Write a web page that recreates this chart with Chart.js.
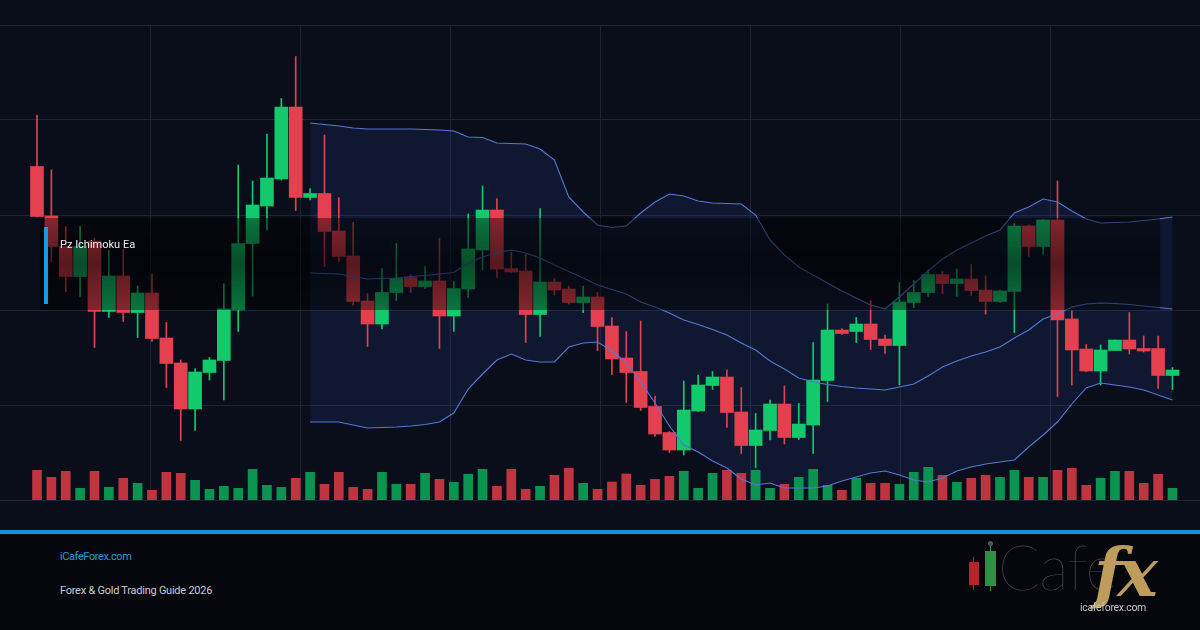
<!DOCTYPE html>
<html>
<head>
<meta charset="utf-8">
<script src="https://cdn.jsdelivr.net/npm/chart.js@4.4.1/dist/chart.umd.min.js"></script>
<style>
  html, body { margin: 0; padding: 0; background: #05070d; }
  #page { position: relative; width: 1200px; height: 630px; background: #05070d; overflow: hidden; font-family: Roboto, "Noto Sans", sans-serif; }
  #plot { position: absolute; left: 0; top: 0; width: 1200px; height: 530px; background: #0a0e1a; }
  #rule { position: absolute; left: 0; top: 530px; width: 1200px; height: 4px; background: #1590d0; }
  .txt { position: absolute; white-space: nowrap; line-height: 1; }
  #tag { left: 60px; top: 239px; font-size: 11px; color: #eef0f4; }
  #tagbar { position: absolute; left: 44px; top: 227px; width: 4px; height: 77px; background: #1a9ae0; }
  #site { left: 60px; top: 551px; font-size: 11px; color: #2a9ad8; letter-spacing: -0.4px; }
  #guide { left: 60px; top: 585px; font-size: 11px; color: #c9ccd3; letter-spacing: -0.25px; }
  .lc { position: absolute; }
  #cafe { left: 998px; top: 535px; font-family: Lato, sans-serif; font-weight: 200; font-size: 62px; color: #4d4d4f; letter-spacing: -1px; }
  #fx { left: 1094px; top: 538px; font-family: "DejaVu Serif", serif; font-style: italic; font-weight: bold; font-size: 68px; color: #bd9c5c; letter-spacing: -6px; }
  #small { left: 1080px; top: 603px; font-size: 10.5px; color: #c4c4c4; letter-spacing: -0.3px; }
</style>
</head>
<body>
<div id="page">
  <div id="plot"><canvas id="chart" width="1200" height="530"></canvas></div>
  <div id="tagbar"></div>
  <div class="txt" id="tag">Pz Ichimoku Ea</div>
  <div id="rule"></div>
  <div class="txt" id="site">iCafeForex.com</div>
  <div class="txt" id="guide">Forex &amp; Gold Trading Guide 2026</div>
  <!-- logo -->
  <div class="lc" style="left:973px;top:557px;width:1px;height:33px;background:#a82a2e"></div>
  <div class="lc" style="left:969px;top:562px;width:10px;height:23px;background:#b3262c"></div>
  <div class="lc" style="left:990px;top:544px;width:1px;height:47px;background:#3f8f4e"></div>
  <div class="lc" style="left:988px;top:541px;width:5px;height:5px;border-radius:50%;background:#555"></div>
  <div class="lc" style="left:985px;top:551px;width:11px;height:35px;background:#2f8f45"></div>
  <div class="txt" id="cafe">Cafe</div>
  <div class="txt" id="fx">fx</div>
  <div class="txt" id="small">icafeforex.com</div>
</div>
<script>
// price candles, one per bar (index 0..79)
const candleOpen = [
  2366.7, 2356.8, 2350.7, 2344.7, 2351.8, 2337.7, 2344.8, 2337.5, 2341.4, 2332.4,
  2327.4, 2318.2, 2325.5, 2327.9, 2338.0, 2351.3, 2358.8, 2364.2, 2378.6, 2360.5,
  2361.3, 2353.8, 2348.8, 2339.8, 2335.2, 2341.5, 2344.5, 2342.7, 2343.8, 2336.8,
  2342.2, 2350.0, 2358.0, 2346.3, 2345.8, 2337.1, 2343.6, 2342.2, 2339.5, 2340.6,
  2334.8, 2328.4, 2325.7, 2318.7, 2313.5, 2310.0, 2317.8, 2322.9, 2324.6, 2317.6,
  2310.9, 2313.9, 2319.2, 2312.5, 2315.0, 2323.9, 2334.0, 2333.7, 2335.2, 2332.2,
  2330.9, 2339.5, 2341.5, 2345.1, 2343.3, 2344.2, 2342.0, 2339.7, 2341.7, 2354.8,
  2350.7, 2356.0, 2336.2, 2330.2, 2325.8, 2329.9, 2332.0, 2330.3, 2330.3, 2324.9
];
const candleHigh = [
  2377.0, 2366.0, 2354.7, 2354.7, 2352.4, 2349.9, 2350.1, 2342.8, 2345.2, 2335.5,
  2328.0, 2326.3, 2328.5, 2343.3, 2367.0, 2363.8, 2373.2, 2380.3, 2388.7, 2362.3,
  2373.0, 2360.5, 2355.5, 2341.3, 2346.3, 2351.3, 2345.0, 2346.7, 2352.3, 2343.7,
  2357.2, 2362.8, 2360.3, 2349.5, 2349.2, 2358.3, 2344.3, 2342.8, 2342.8, 2341.5,
  2336.5, 2333.7, 2335.8, 2320.8, 2313.7, 2323.8, 2325.0, 2325.7, 2326.0, 2322.5,
  2317.3, 2320.0, 2322.8, 2319.3, 2331.5, 2339.2, 2334.3, 2336.5, 2339.9, 2333.0,
  2343.5, 2343.9, 2346.0, 2345.7, 2346.2, 2347.1, 2344.8, 2342.0, 2355.3, 2355.0,
  2356.1, 2363.8, 2337.8, 2331.1, 2331.0, 2332.0, 2337.5, 2332.8, 2332.8, 2326.5
];
const candleLow = [
  2356.6, 2347.7, 2341.7, 2340.7, 2330.5, 2336.5, 2335.7, 2332.5, 2331.7, 2322.5,
  2311.9, 2313.9, 2324.0, 2320.0, 2333.7, 2340.8, 2354.0, 2364.0, 2357.9, 2360.0,
  2346.7, 2347.7, 2339.0, 2330.7, 2334.2, 2339.9, 2341.5, 2342.3, 2330.3, 2333.7,
  2340.5, 2346.1, 2344.5, 2345.5, 2331.5, 2332.7, 2341.0, 2339.2, 2337.5, 2329.9,
  2325.1, 2319.5, 2317.9, 2312.7, 2309.5, 2309.0, 2317.7, 2322.1, 2314.5, 2309.3,
  2306.5, 2312.0, 2311.2, 2312.1, 2309.3, 2319.7, 2333.1, 2331.5, 2330.1, 2329.3,
  2323.0, 2338.5, 2340.7, 2341.3, 2340.7, 2340.9, 2337.2, 2339.5, 2333.5, 2348.7,
  2349.1, 2320.7, 2323.0, 2325.7, 2323.0, 2329.9, 2329.2, 2329.6, 2322.3, 2322.1
];
const candleClose = [
  2356.7, 2350.7, 2344.7, 2350.7, 2337.7, 2344.8, 2337.5, 2341.4, 2332.3, 2327.3,
  2318.2, 2325.6, 2328.0, 2338.2, 2351.3, 2359.0, 2364.4, 2378.6, 2360.5, 2361.3,
  2353.7, 2348.7, 2339.7, 2335.2, 2341.5, 2344.3, 2342.7, 2343.8, 2336.8, 2342.3,
  2350.2, 2358.0, 2346.2, 2345.6, 2337.1, 2343.6, 2342.0, 2339.5, 2340.6, 2334.7,
  2328.2, 2325.5, 2318.5, 2313.2, 2310.0, 2318.0, 2323.0, 2324.6, 2317.5, 2310.9,
  2314.0, 2319.2, 2312.5, 2315.2, 2324.0, 2334.0, 2333.3, 2335.2, 2332.1, 2330.9,
  2339.6, 2341.5, 2345.1, 2343.3, 2344.2, 2341.9, 2339.7, 2341.8, 2354.8, 2350.7,
  2356.0, 2336.0, 2330.0, 2325.8, 2330.0, 2332.0, 2330.2, 2329.8, 2324.9, 2326.0
];
const volume = [
  2970, 2270, 2870, 1170, 2870, 1270, 2170, 1670, 970, 2770,
  2670, 1970, 1070, 1370, 1170, 3070, 1470, 1270, 2170, 2770,
  1570, 2770, 1270, 1070, 2770, 1570, 1570, 2670, 2070, 1770,
  2570, 3070, 1370, 3070, 1070, 1370, 2470, 3170, 1670, 1070,
  1800, 2600, 1470, 2070, 2370, 2870, 1170, 2670, 2970, 2670,
  2970, 1170, 1570, 2270, 3070, 1470, 970, 2170, 1670, 1670,
  1570, 2770, 3270, 2470, 1770, 2170, 2470, 2270, 2970, 2270,
  2270, 2970, 3170, 1470, 2170, 2870, 2870, 1670, 2570, 1170
];
// bands start at bar 19 and run to the last bar
const bandFrom = 19;
const bandUpper = [
  2375.4, 2375.1, 2374.8, 2374.4, 2374.2, 2374.2, 2374.2, 2374.2, 2374.1, 2374.0,
  2373.8, 2372.6, 2372.5, 2371.4, 2371.3, 2371.2, 2370.2, 2368.0, 2360.6, 2357.6,
  2355.0, 2354.5, 2354.8, 2357.4, 2359.6, 2361.2, 2360.8, 2359.8, 2359.4, 2359.3,
  2359.2, 2357.0, 2352.0, 2349.0, 2346.6, 2345.0, 2343.4, 2341.8, 2340.4, 2339.0,
  2338.2, 2340.6, 2343.2, 2345.8, 2348.2, 2350.0, 2351.4, 2352.8, 2354.0, 2357.4,
  2358.6, 2360.2, 2359.6, 2357.8, 2356.2, 2355.4, 2355.5, 2355.6, 2355.9, 2356.2,
  2356.6
];
const bandMiddle = [
  2345.4, 2345.3, 2345.2, 2344.7, 2344.2, 2344.3, 2344.4, 2344.7, 2344.9, 2345.2,
  2345.5, 2347.4, 2348.6, 2349.5, 2350.0, 2349.4, 2348.4, 2347.0, 2345.7, 2344.4,
  2343.0, 2342.1, 2341.2, 2339.6, 2338.6, 2337.4, 2336.0, 2335.1, 2334.1, 2333.0,
  2331.4, 2330.0, 2327.8, 2326.2, 2324.4, 2323.6, 2323.1, 2322.7, 2322.4, 2322.2,
  2322.0, 2322.6, 2323.2, 2324.8, 2326.6, 2327.8, 2328.8, 2329.6, 2330.6, 2332.4,
  2334.0, 2336.2, 2337.2, 2338.6, 2339.2, 2339.4, 2339.3, 2339.1, 2338.8, 2338.5,
  2338.2
];
const bandLower = [
  2315.6, 2315.6, 2315.6, 2315.0, 2314.4, 2314.5, 2314.6, 2314.8, 2315.1, 2315.6,
  2317.4, 2322.2, 2325.2, 2328.0, 2329.2, 2328.0, 2327.6, 2327.6, 2330.6, 2331.4,
  2331.6, 2329.8, 2327.4, 2323.6, 2319.4, 2314.8, 2311.0, 2309.6, 2307.8, 2306.4,
  2304.2, 2303.0, 2303.4, 2302.4, 2302.4, 2302.4, 2302.8, 2303.8, 2304.6, 2305.4,
  2305.8, 2305.0, 2304.0, 2303.6, 2304.4, 2305.8, 2306.6, 2307.2, 2307.6, 2308.0,
  2310.6, 2313.0, 2315.6, 2319.2, 2322.4, 2323.4, 2323.0, 2322.6, 2322.0, 2321.0,
  2320.0
];
// shaded indicator zone (price range and bar range)
const zoneHigh = 2356.4, zoneLow = 2338.0, zoneFrom = 0.2, zoneTo = 78.14;

const UP = '#12c96c', DOWN = '#e5404f';
const UP_VOL = '#0b9450', DOWN_VOL = '#c0343f';
const BAND = '#5479d6';
const GRID = '#1d2436';

const isUp = candleOpen.map((o, i) => candleClose[i] >= o);
const bandPoints = arr => arr.map((v, i) => ({ x: i + bandFrom, y: v }));

const zonePlugin = {
  id: 'zone',
  afterDatasetsDraw(chart) {
    const { ctx, scales: { x, y } } = chart;
    const x0 = x.getPixelForValue(zoneFrom), x1 = x.getPixelForValue(zoneTo);
    const y0 = y.getPixelForValue(zoneHigh), y1 = y.getPixelForValue(zoneLow);
    const g = ctx.createLinearGradient(0, y0, 0, y1);
    g.addColorStop(0, 'rgba(0,0,0,0.42)');
    g.addColorStop(0.5, 'rgba(0,0,0,0.62)');
    g.addColorStop(1, 'rgba(0,0,0,0.42)');
    ctx.save();
    ctx.fillStyle = g;
    ctx.fillRect(x0, y0, x1 - x0, y1 - y0);
    ctx.restore();
  }
};

new Chart(document.getElementById('chart'), {
  type: 'bar',
  data: {
    datasets: [
      {
        type: 'line', label: 'upper', data: bandPoints(bandUpper), order: 0,
        borderColor: BAND, borderWidth: 1.1, pointRadius: 0, tension: 0,
        fill: '+2', backgroundColor: 'rgba(40,70,150,0.18)'
      },
      {
        type: 'line', label: 'middle', data: bandPoints(bandMiddle), order: 0,
        borderColor: BAND, borderWidth: 1.1, pointRadius: 0, tension: 0, fill: false
      },
      {
        type: 'line', label: 'lower', data: bandPoints(bandLower), order: 0,
        borderColor: BAND, borderWidth: 1.1, pointRadius: 0, tension: 0, fill: false
      },
      {
        label: 'body', order: 1, grouped: false, barThickness: 13,
        data: candleOpen.map((o, i) => ({ x: i, y: [o, candleClose[i]] })),
        backgroundColor: isUp.map(u => u ? UP : DOWN), borderWidth: 0
      },
      {
        label: 'wick', order: 2, grouped: false, barThickness: 1,
        data: candleLow.map((l, i) => ({ x: i, y: [l, candleHigh[i]] })),
        backgroundColor: isUp.map(u => u ? UP : DOWN), borderWidth: 0
      },
      {
        label: 'volume', order: 3, grouped: false, barThickness: 9, yAxisID: 'vol',
        data: volume.map((v, i) => ({ x: i, y: v })),
        backgroundColor: isUp.map(u => u ? UP_VOL : DOWN_VOL), borderWidth: 0
      }
    ]
  },
  options: {
    responsive: false,
    animation: false,
    events: [],
    layout: { padding: { top: 25, bottom: 30, left: 0, right: 0 } },
    plugins: { legend: { display: false }, tooltip: { enabled: false }, filler: { drawTime: 'beforeDatasetsDraw' } },
    scales: {
      x: {
        type: 'linear', min: -2.5743, max: 80.916, offset: false,
        display: false, grid: { display: false }
      },
      xg: {
        type: 'linear', position: 'bottom', min: 0, max: 1200, offset: false,
        ticks: { display: false, stepSize: 150 },
        grid: {
          color: c => (c.tick && (c.tick.value === 0 || c.tick.value === 1200)) ? 'rgba(0,0,0,0)' : GRID,
          lineWidth: 1, drawTicks: false, offset: false
        },
        border: { display: false }
      },
      y: {
        type: 'linear', min: 2300, max: 2395,
        ticks: { display: false, stepSize: 19 },
        grid: { color: GRID, lineWidth: 1, drawTicks: false },
        border: { display: false }
      },
      vol: {
        type: 'linear', min: 0, max: 47500, display: false
      }
    }
  },
  plugins: [zonePlugin]
});
</script>
</body>
</html>
